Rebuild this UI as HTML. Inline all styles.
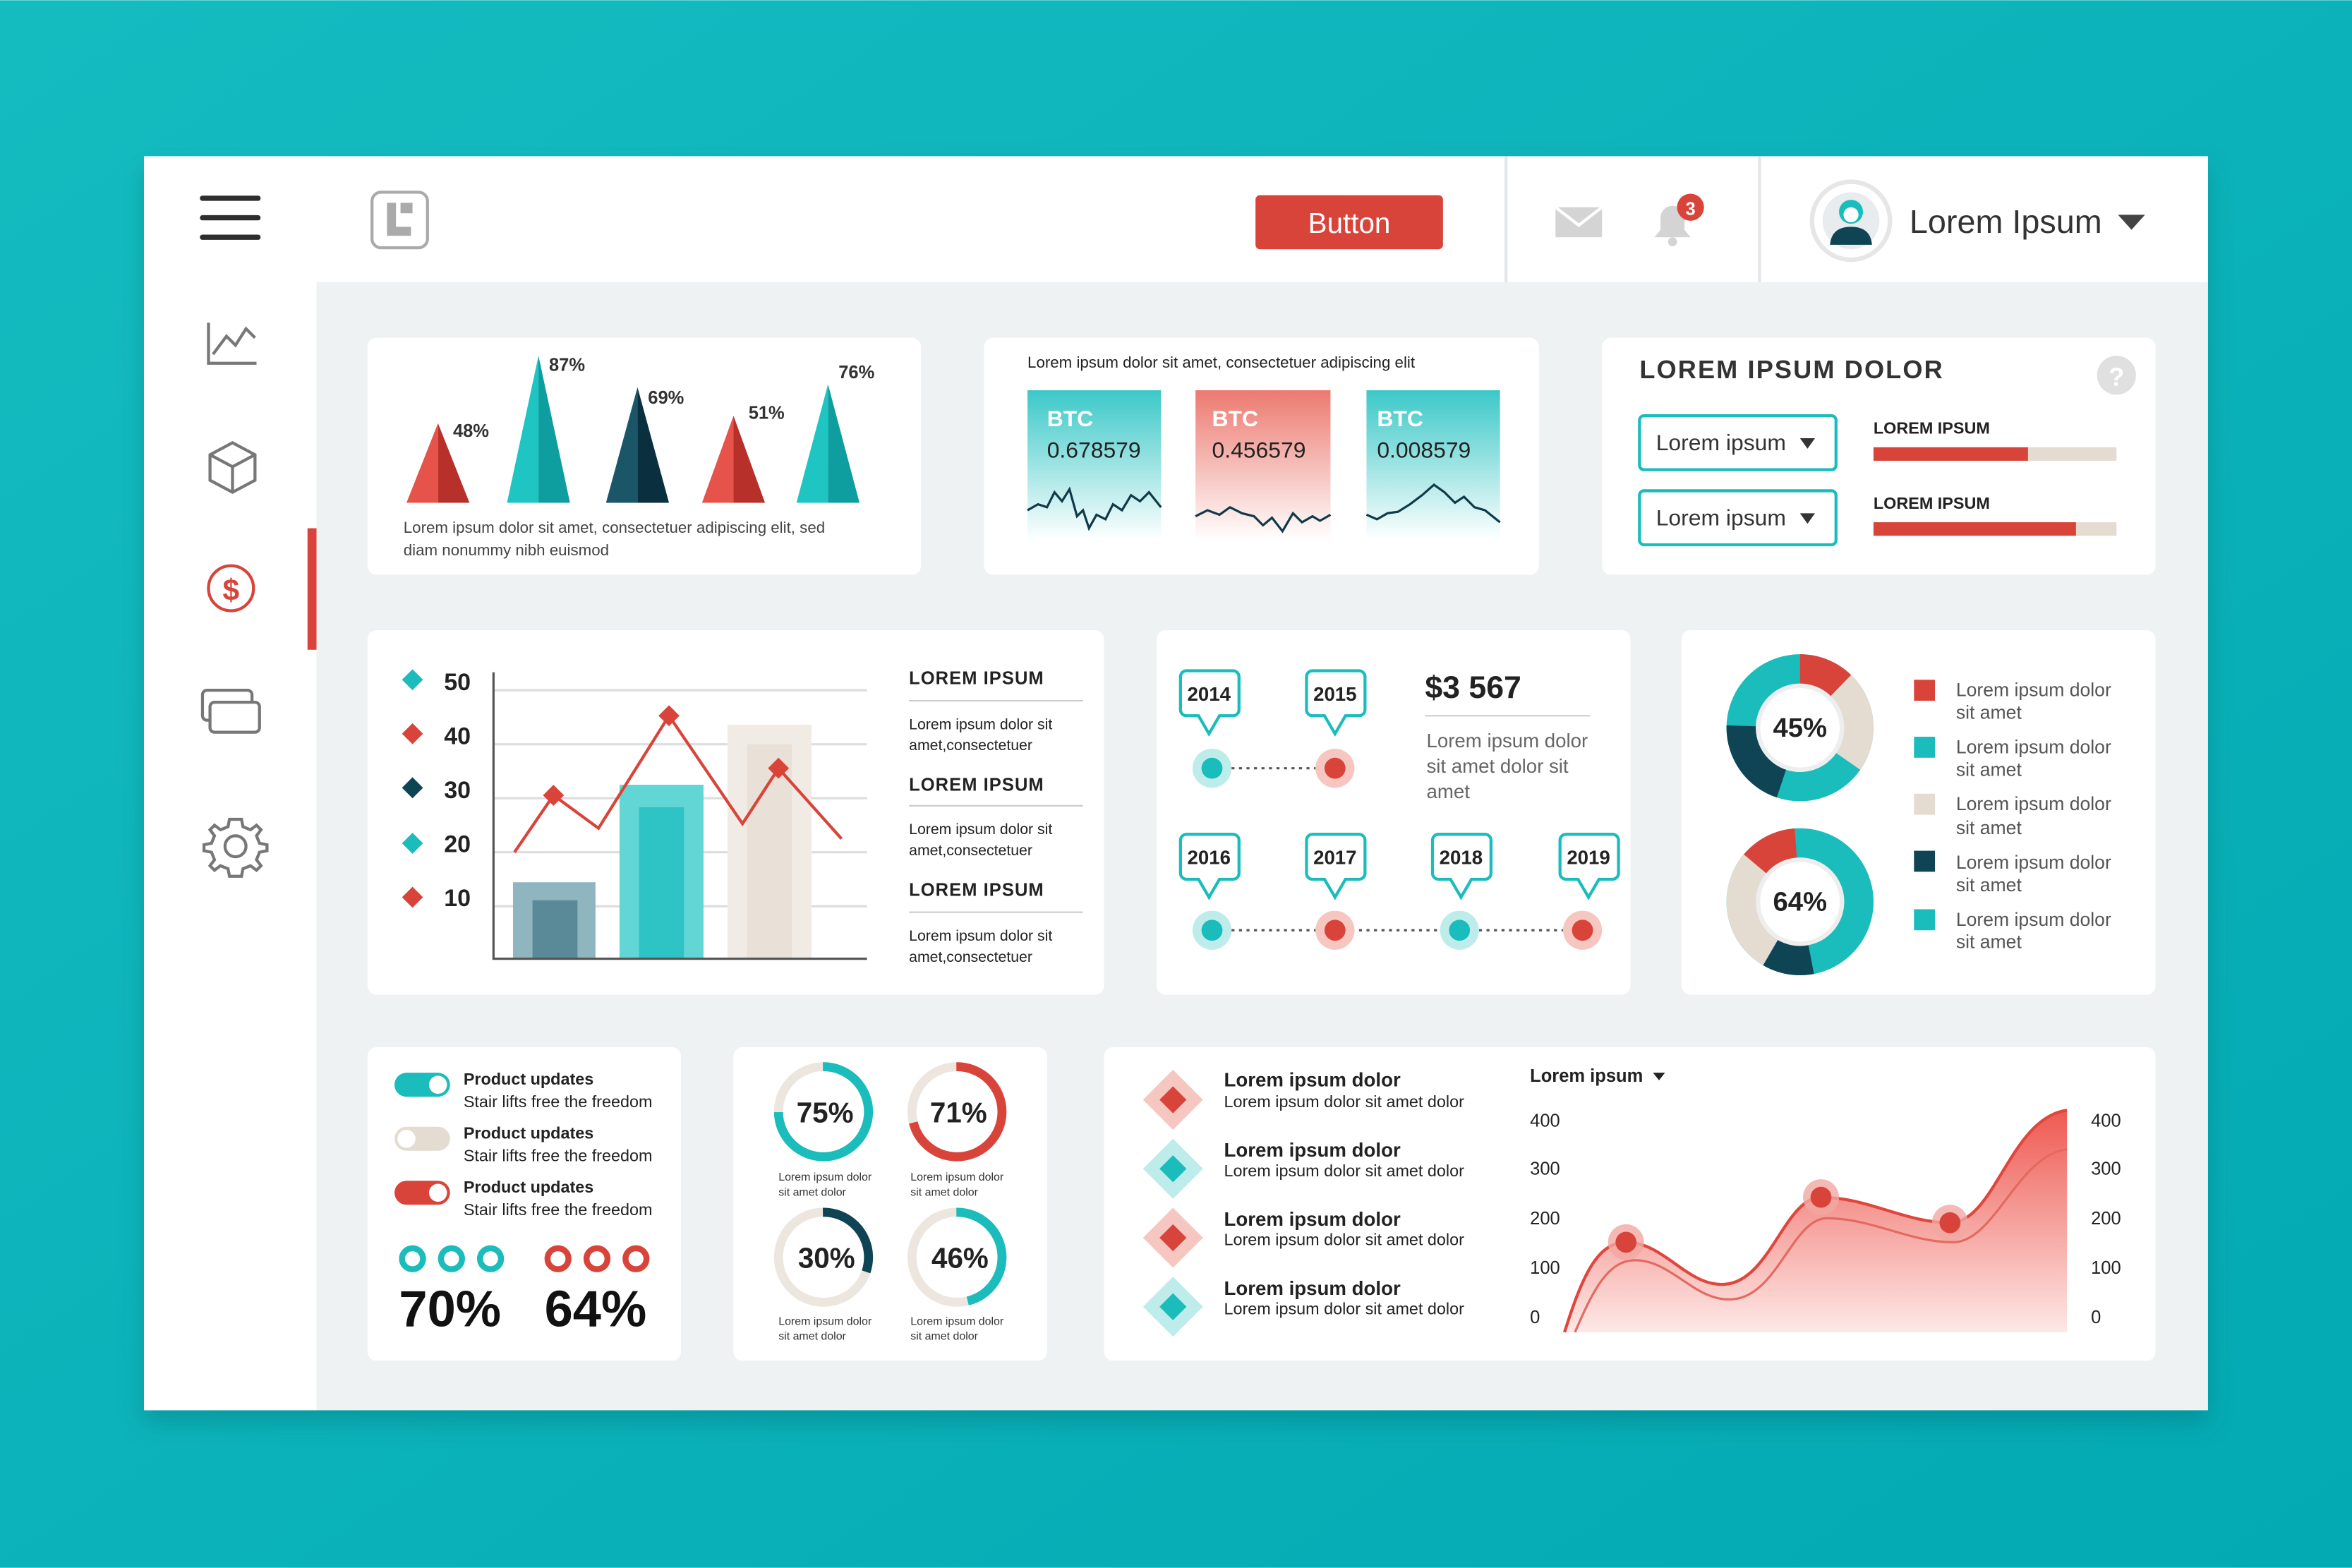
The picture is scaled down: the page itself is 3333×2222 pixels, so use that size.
<!DOCTYPE html>
<html><head><meta charset="utf-8"><style>html,body{margin:0;padding:0;overflow:hidden}svg{display:block}text{font-family:"Liberation Sans",sans-serif}</style></head><body>
<svg width="3333" height="2222" viewBox="0 0 1568 1045" xmlns="http://www.w3.org/2000/svg">
<defs>
<linearGradient id="bg" x1="0" y1="0" x2="1" y2="1"><stop offset="0" stop-color="#14bcc0"/><stop offset="1" stop-color="#03a9b3"/></linearGradient>
<linearGradient id="gt" x1="0" y1="0" x2="0" y2="1"><stop offset="0" stop-color="#3cc8c8"/><stop offset="1" stop-color="#fff"/></linearGradient>
<linearGradient id="gr" x1="0" y1="0" x2="0" y2="1"><stop offset="0" stop-color="#ec7a70"/><stop offset="1" stop-color="#fff"/></linearGradient>
<linearGradient id="ga" x1="0" y1="0" x2="0" y2="1"><stop offset="0" stop-color="#ee5a52"/><stop offset="1" stop-color="#fde8e6"/></linearGradient>
<filter id="sh" x="-5%" y="-5%" width="110%" height="115%"><feDropShadow dx="0" dy="8" stdDeviation="8" flood-color="#005b60" flood-opacity="0.3"/></filter>
</defs>
<rect width="1568" height="1045" fill="url(#bg)"/>
<g filter="url(#sh)"><rect x="96" y="104" width="1376" height="836" fill="#eef2f3"/></g>
<rect x="96" y="104" width="115" height="836" fill="#fff"/>
<rect x="211" y="104" width="1261" height="84" fill="#fff"/>
<line x1="1004" y1="104" x2="1004" y2="188" stroke="#e3e6e8" stroke-width="2"/>
<line x1="1173" y1="104" x2="1173" y2="188" stroke="#e3e6e8" stroke-width="2"/>
<!-- sidebar -->
<g stroke="#2e2e2e" stroke-width="3.5" stroke-linecap="round"><line x1="135" y1="132" x2="172" y2="132"/><line x1="135" y1="145" x2="172" y2="145"/><line x1="135" y1="158" x2="172" y2="158"/></g>
<g fill="none" stroke="#777" stroke-width="2">
<polyline points="139,215 139,242 171,242"/><polyline points="142,236 151,224 157,230 164,219 170,225"/>
<path d="M155,295 L170,303 L170,320 L155,328 L140,320 L140,303 Z M140,303 L155,311 L170,303 M155,311 L155,328"/>
<rect x="135" y="460" width="33" height="20" rx="3"/><rect x="140" y="468" width="33" height="20" rx="3" fill="#fff"/>
<circle cx="157" cy="564" r="7"/>
<path d="M157,546 l4,0 1,5 5,2 4,-3 3,3 -3,4 2,5 5,1 0,4 -5,1 -2,5 3,4 -3,3 -4,-3 -5,2 -1,5 -4,0 -4,0 -1,-5 -5,-2 -4,3 -3,-3 3,-4 -2,-5 -5,-1 0,-4 5,-1 2,-5 -3,-4 3,-3 4,3 5,-2 1,-5 z"/>
</g>
<circle cx="154" cy="392" r="15" fill="none" stroke="#d9443a" stroke-width="2"/>
<text x="154" y="400" font-size="20" fill="#d9443a" text-anchor="middle" font-weight="bold">$</text>
<rect x="205" y="352" width="6" height="81" fill="#d9443a"/>
<!-- header -->
<rect x="248" y="128" width="37" height="37" rx="6" fill="none" stroke="#aaa" stroke-width="2"/>
<path d="M258,135 v22 h16 v-6 h-10 v-16 z M267,135 h8 v7 h-8z" fill="#aaa"/>
<rect x="837" y="130" width="125" height="36" rx="3" fill="#d9443a"/>
<text x="899.5" y="155" font-size="19" fill="#fff" text-anchor="middle">Button</text>
<rect x="1037" y="138" width="31" height="20" fill="#d4d4d4"/><polyline points="1037,138 1052.5,150 1068,138" fill="none" stroke="#fff" stroke-width="2"/>
<path d="M1103,158 h24 l-4,-5 v-8 a8,8 0 0 0 -16,0 v8 z" fill="#d4d4d4"/><circle cx="1115" cy="161" r="3" fill="#d4d4d4"/>
<circle cx="1127" cy="138" r="9" fill="#d9443a"/><text x="1127" y="143" font-size="12" fill="#fff" text-anchor="middle" font-weight="bold">3</text>
<circle cx="1234" cy="147" r="26" fill="#fff" stroke="#e6e6e6" stroke-width="3"/><circle cx="1234" cy="147" r="19" fill="#e8ecee"/>
<path d="M1220,163 q1,-12 14,-12 q13,0 14,12 z" fill="#0f4455"/><circle cx="1234" cy="141" r="8" fill="#1bbcbc"/><circle cx="1234" cy="143" r="5" fill="#fff"/>
<text x="1273" y="155" font-size="22" fill="#333">Lorem Ipsum</text>
<polygon points="1412,143 1430,143 1421,153" fill="#444"/>
<!-- cards -->
<g fill="#fff">
<rect x="245" y="225" width="369" height="158" rx="6"/><rect x="656" y="225" width="370" height="158" rx="6"/><rect x="1068" y="225" width="369" height="158" rx="6"/>
<rect x="245" y="420" width="491" height="243" rx="6"/><rect x="771" y="420" width="316" height="243" rx="6"/><rect x="1121" y="420" width="316" height="243" rx="6"/>
<rect x="245" y="698" width="209" height="209" rx="6"/><rect x="489" y="698" width="209" height="209" rx="6"/><rect x="736" y="698" width="701" height="209" rx="6"/>
</g>
<!-- card1 cones -->
<polygon points="271,335 292,282 292,335" fill="#e5534a"/><polygon points="292,282 313,335 292,335" fill="#b8302a"/>
<polygon points="338,335 359,237 359,335" fill="#1fc5c3"/><polygon points="359,237 380,335 359,335" fill="#0e9e9f"/>
<polygon points="404,335 425,258 425,335" fill="#1a5568"/><polygon points="425,258 446,335 425,335" fill="#0a3040"/>
<polygon points="468,335 489,277 489,335" fill="#e5534a"/><polygon points="489,277 510,335 489,335" fill="#b8302a"/>
<polygon points="531,335 552,256 552,335" fill="#1fc5c3"/><polygon points="552,256 573,335 552,335" fill="#0e9e9f"/>
<g font-size="12" fill="#333" font-weight="bold"><text x="302" y="291">48%</text><text x="366" y="247">87%</text><text x="432" y="269">69%</text><text x="499" y="279">51%</text><text x="559" y="252">76%</text></g>
<text x="269" y="355" font-size="10.5" fill="#444">Lorem ipsum dolor sit amet, consectetuer adipiscing elit, sed</text>
<text x="269" y="370" font-size="10.5" fill="#444">diam nonummy nibh euismod</text>
<!-- card2 -->
<text x="685" y="245" font-size="10.5" fill="#222">Lorem ipsum dolor sit amet, consectetuer adipiscing elit</text>
<rect x="685" y="260" width="89" height="100" fill="url(#gt)"/><rect x="797" y="260" width="90" height="100" fill="url(#gr)"/><rect x="911" y="260" width="89" height="100" fill="url(#gt)"/>
<g font-size="15"><text x="698" y="284" fill="#fff" font-weight="bold">BTC</text><text x="698" y="305" fill="#222">0.678579</text>
<text x="808" y="284" fill="#fff" font-weight="bold">BTC</text><text x="808" y="305" fill="#222">0.456579</text>
<text x="918" y="284" fill="#fff" font-weight="bold">BTC</text><text x="918" y="305" fill="#222">0.008579</text></g>
<g fill="none" stroke="#0f3a48" stroke-width="1.5">
<polyline points="685,340 692,336 698,338 703,328 708,334 713,326 718,344 722,340 726,352 731,343 737,346 742,336 748,340 754,330 760,334 766,328 774,338"/>
<polyline points="797,344 805,340 813,343 820,338 828,342 836,344 842,350 848,345 855,354 862,342 868,348 875,344 880,347 887,343"/>
<polyline points="911,343 918,346 925,342 932,341 940,336 948,330 956,323 963,328 970,335 976,331 983,338 990,340 1000,348"/>
</g>
<!-- card3 -->
<text x="1093" y="252" font-size="17" fill="#333" font-weight="bold" letter-spacing="1">LOREM IPSUM DOLOR</text>
<circle cx="1411" cy="250" r="13" fill="#e0e0e0"/><text x="1411" y="257" font-size="17" fill="#fff" text-anchor="middle" font-weight="bold">?</text>
<rect x="1093" y="277" width="131" height="36" rx="3" fill="none" stroke="#1bbcbc" stroke-width="2"/><rect x="1093" y="327" width="131" height="36" rx="3" fill="none" stroke="#1bbcbc" stroke-width="2"/>
<text x="1104" y="300" font-size="15" fill="#333">Lorem ipsum</text><text x="1104" y="350" font-size="15" fill="#333">Lorem ipsum</text>
<polygon points="1200,292 1210,292 1205,299" fill="#333"/><polygon points="1200,342 1210,342 1205,349" fill="#333"/>
<text x="1249" y="289" font-size="11" fill="#222" font-weight="bold">LOREM IPSUM</text><text x="1249" y="339" font-size="11" fill="#222" font-weight="bold">LOREM IPSUM</text>
<rect x="1249" y="298" width="162" height="9" fill="#e4dbd1"/><rect x="1249" y="298" width="103" height="9" fill="#d9443a"/>
<rect x="1249" y="348" width="162" height="9" fill="#e4dbd1"/><rect x="1249" y="348" width="135" height="9" fill="#d9443a"/>
<!-- card4 -->
<g><polygon points="275,446 282,453 275,460 268,453" fill="#1bbcbc"/><polygon points="275,482 282,489 275,496 268,489" fill="#d9443a"/><polygon points="275,518 282,525 275,532 268,525" fill="#0f4455"/><polygon points="275,555 282,562 275,569 268,562" fill="#1bbcbc"/><polygon points="275,591 282,598 275,605 268,598" fill="#d9443a"/></g>
<g font-size="16" fill="#222" font-weight="bold"><text x="296" y="460">50</text><text x="296" y="496">40</text><text x="296" y="532">30</text><text x="296" y="568">20</text><text x="296" y="604">10</text></g>
<g stroke="#ddd" stroke-width="1.5"><line x1="329" y1="460" x2="578" y2="460"/><line x1="329" y1="496" x2="578" y2="496"/><line x1="329" y1="532" x2="578" y2="532"/><line x1="329" y1="568" x2="578" y2="568"/><line x1="329" y1="604" x2="578" y2="604"/></g>
<rect x="342" y="588" width="55" height="51" fill="#8fb5bf"/><rect x="355" y="600" width="30" height="39" fill="#5a8a98"/>
<rect x="413" y="523" width="56" height="116" fill="#62d6d5"/><rect x="426" y="538" width="30" height="101" fill="#2ec4c6"/>
<rect x="485" y="483" width="56" height="156" fill="#f1ebe5"/><rect x="498" y="496" width="30" height="143" fill="#e9e0d8"/>
<polyline points="329,448 329,639 578,639" fill="none" stroke="#555" stroke-width="1.5"/>
<polyline points="343,568 369,530 399,552 446,477 495,549 519,512 561,559" fill="none" stroke="#d9443a" stroke-width="2"/>
<g fill="#d9443a"><polygon points="369,523 376,530 369,537 362,530"/><polygon points="446,470 453,477 446,484 439,477"/><polygon points="519,505 526,512 519,519 512,512"/></g>
<g font-size="12" fill="#222" font-weight="bold" letter-spacing="0.5"><text x="606" y="456">LOREM IPSUM</text><text x="606" y="527">LOREM IPSUM</text><text x="606" y="597">LOREM IPSUM</text></g>
<g stroke="#ccc"><line x1="606" y1="467" x2="722" y2="467"/><line x1="606" y1="537" x2="722" y2="537"/><line x1="606" y1="608" x2="722" y2="608"/></g>
<g font-size="10" fill="#222"><text x="606" y="486">Lorem ipsum dolor sit</text><text x="606" y="500">amet,consectetuer</text><text x="606" y="556">Lorem ipsum dolor sit</text><text x="606" y="570">amet,consectetuer</text><text x="606" y="627">Lorem ipsum dolor sit</text><text x="606" y="641">amet,consectetuer</text></g>
<!-- card5 -->
<g fill="none" stroke-dasharray="2,3" stroke="#555" stroke-width="1.5"><line x1="816" y1="512" x2="880" y2="512"/><line x1="816" y1="620" x2="1047" y2="620"/></g>
<g font-size="13" font-weight="bold" fill="#222" text-anchor="middle">
<path d="M791,447 h31 a4,4 0 0 1 4,4 v22 a4,4 0 0 1 -4,4 h-9 l-7,12 l-7,-12 h-8 a4,4 0 0 1 -4,-4 v-22 a4,4 0 0 1 4,-4z" fill="#fff" stroke="#1bbcbc" stroke-width="2"/><text x="806" y="467">2014</text>
<path d="M875,447 h31 a4,4 0 0 1 4,4 v22 a4,4 0 0 1 -4,4 h-9 l-7,12 l-7,-12 h-8 a4,4 0 0 1 -4,-4 v-22 a4,4 0 0 1 4,-4z" fill="#fff" stroke="#1bbcbc" stroke-width="2"/><text x="890" y="467">2015</text>
<path d="M791,556 h31 a4,4 0 0 1 4,4 v22 a4,4 0 0 1 -4,4 h-9 l-7,12 l-7,-12 h-8 a4,4 0 0 1 -4,-4 v-22 a4,4 0 0 1 4,-4z" fill="#fff" stroke="#1bbcbc" stroke-width="2"/><text x="806" y="576">2016</text>
<path d="M875,556 h31 a4,4 0 0 1 4,4 v22 a4,4 0 0 1 -4,4 h-9 l-7,12 l-7,-12 h-8 a4,4 0 0 1 -4,-4 v-22 a4,4 0 0 1 4,-4z" fill="#fff" stroke="#1bbcbc" stroke-width="2"/><text x="890" y="576">2017</text>
<path d="M959,556 h31 a4,4 0 0 1 4,4 v22 a4,4 0 0 1 -4,4 h-9 l-7,12 l-7,-12 h-8 a4,4 0 0 1 -4,-4 v-22 a4,4 0 0 1 4,-4z" fill="#fff" stroke="#1bbcbc" stroke-width="2"/><text x="974" y="576">2018</text>
<path d="M1044,556 h31 a4,4 0 0 1 4,4 v22 a4,4 0 0 1 -4,4 h-9 l-7,12 l-7,-12 h-8 a4,4 0 0 1 -4,-4 v-22 a4,4 0 0 1 4,-4z" fill="#fff" stroke="#1bbcbc" stroke-width="2"/><text x="1059" y="576">2019</text>
</g>
<g><circle cx="808" cy="512" r="13" fill="#bdeceb"/><circle cx="808" cy="512" r="7" fill="#1bbcbc"/>
<circle cx="890" cy="512" r="13" fill="#f6c6c1"/><circle cx="890" cy="512" r="7" fill="#d9443a"/>
<circle cx="808" cy="620" r="13" fill="#bdeceb"/><circle cx="808" cy="620" r="7" fill="#1bbcbc"/>
<circle cx="890" cy="620" r="13" fill="#f6c6c1"/><circle cx="890" cy="620" r="7" fill="#d9443a"/>
<circle cx="973" cy="620" r="13" fill="#bdeceb"/><circle cx="973" cy="620" r="7" fill="#1bbcbc"/>
<circle cx="1055" cy="620" r="13" fill="#f6c6c1"/><circle cx="1055" cy="620" r="7" fill="#d9443a"/></g>
<text x="950" y="465" font-size="21" font-weight="bold" fill="#222">$3 567</text>
<line x1="950" y1="477" x2="1060" y2="477" stroke="#ccc"/>
<g font-size="13" fill="#666"><text x="951" y="498">Lorem ipsum dolor</text><text x="951" y="515">sit amet dolor sit</text><text x="951" y="532">amet</text></g>
<!-- card6 donuts -->
<g fill="none" stroke-width="20">
<circle cx="1200" cy="485" r="39" stroke="#1bbcbc"/>
<circle cx="1200" cy="485" r="39" stroke="#d9443a" stroke-dasharray="30 215" transform="rotate(-90 1200 485)"/>
<circle cx="1200" cy="485" r="39" stroke="#e4dbd1" stroke-dasharray="0 30 55 160" transform="rotate(-90 1200 485)"/>
<circle cx="1200" cy="485" r="39" stroke="#0f4455" stroke-dasharray="0 135 50 60" transform="rotate(-90 1200 485)"/>
<circle cx="1200" cy="601" r="39" stroke="#1bbcbc"/>
<circle cx="1200" cy="601" r="39" stroke="#d9443a" stroke-dasharray="38 207" transform="rotate(-150 1200 601)"/>
<circle cx="1200" cy="601" r="39" stroke="#0f4455" stroke-dasharray="0 115 28 102" transform="rotate(-90 1200 601)"/>
<circle cx="1200" cy="601" r="39" stroke="#e4dbd1" stroke-dasharray="0 143 68 34" transform="rotate(-90 1200 601)"/>
</g>
<circle cx="1200" cy="485" r="28" fill="#fff" stroke="#eee" stroke-width="3"/><circle cx="1200" cy="601" r="28" fill="#fff" stroke="#eee" stroke-width="3"/>
<text x="1200" y="491" font-size="18" font-weight="bold" fill="#222" text-anchor="middle">45%</text>
<text x="1200" y="607" font-size="18" font-weight="bold" fill="#222" text-anchor="middle">64%</text>
<rect x="1276" y="453" width="14" height="14" fill="#d9443a"/><rect x="1276" y="491" width="14" height="14" fill="#1bbcbc"/><rect x="1276" y="529" width="14" height="14" fill="#e4dbd1"/><rect x="1276" y="567" width="14" height="14" fill="#0f4455"/><rect x="1276" y="606" width="14" height="14" fill="#1bbcbc"/>
<g font-size="12.5" fill="#555"><text x="1304" y="464">Lorem ipsum dolor</text><text x="1304" y="479">sit amet</text><text x="1304" y="502">Lorem ipsum dolor</text><text x="1304" y="517">sit amet</text><text x="1304" y="540">Lorem ipsum dolor</text><text x="1304" y="556">sit amet</text><text x="1304" y="579">Lorem ipsum dolor</text><text x="1304" y="594">sit amet</text><text x="1304" y="617">Lorem ipsum dolor</text><text x="1304" y="632">sit amet</text></g>
<!-- card7 -->
<rect x="263" y="715" width="37" height="16" rx="8" fill="#1bbcbc"/><circle cx="292" cy="723" r="6" fill="#fff"/>
<rect x="263" y="751" width="37" height="16" rx="8" fill="#e4dbd1"/><circle cx="271" cy="759" r="6" fill="#fff"/>
<rect x="263" y="787" width="37" height="16" rx="8" fill="#d9443a"/><circle cx="292" cy="795" r="6" fill="#fff"/>
<g font-size="11" fill="#222"><text x="309" y="723" font-weight="bold">Product updates</text><text x="309" y="738">Stair lifts free the freedom</text>
<text x="309" y="759" font-weight="bold">Product updates</text><text x="309" y="774">Stair lifts free the freedom</text>
<text x="309" y="795" font-weight="bold">Product updates</text><text x="309" y="810">Stair lifts free the freedom</text></g>
<g fill="none" stroke-width="4"><circle cx="275" cy="839" r="7" stroke="#1bbcbc"/><circle cx="301" cy="839" r="7" stroke="#1bbcbc"/><circle cx="327" cy="839" r="7" stroke="#1bbcbc"/>
<circle cx="372" cy="839" r="7" stroke="#d9443a"/><circle cx="398" cy="839" r="7" stroke="#d9443a"/><circle cx="424" cy="839" r="7" stroke="#d9443a"/></g>
<text x="266" y="884" font-size="34" font-weight="bold" fill="#111">70%</text><text x="363" y="884" font-size="34" font-weight="bold" fill="#111">64%</text>
<!-- card8 -->
<g fill="none" stroke-width="6">
<circle cx="549" cy="741" r="30" stroke="#ece6df"/><circle cx="549" cy="741" r="30" stroke="#1bbcbc" stroke-dasharray="141 47" transform="rotate(-90 549 741)"/>
<circle cx="638" cy="741" r="30" stroke="#ece6df"/><circle cx="638" cy="741" r="30" stroke="#d9443a" stroke-dasharray="134 54" transform="rotate(-90 638 741)"/>
<circle cx="549" cy="838" r="30" stroke="#ece6df"/><circle cx="549" cy="838" r="30" stroke="#0f4455" stroke-dasharray="57 131" transform="rotate(-90 549 838)"/>
<circle cx="638" cy="838" r="30" stroke="#ece6df"/><circle cx="638" cy="838" r="30" stroke="#1bbcbc" stroke-dasharray="87 101" transform="rotate(-90 638 838)"/>
</g>
<g font-size="19" font-weight="bold" fill="#222" text-anchor="middle"><text x="550" y="748">75%</text><text x="639" y="748">71%</text><text x="551" y="845">30%</text><text x="640" y="845">46%</text></g>
<g font-size="7.5" fill="#333"><text x="519" y="787">Lorem ipsum dolor</text><text x="519" y="797">sit amet dolor</text><text x="607" y="787">Lorem ipsum dolor</text><text x="607" y="797">sit amet dolor</text>
<text x="519" y="883">Lorem ipsum dolor</text><text x="519" y="893">sit amet dolor</text><text x="607" y="883">Lorem ipsum dolor</text><text x="607" y="893">sit amet dolor</text></g>
<!-- card9 -->
<g>
<polygon points="782,713 802,733 782,753 762,733" fill="#f6c6c1"/><polygon points="782,724 791,733 782,742 773,733" fill="#d9443a"/>
<polygon points="782,759 802,779 782,799 762,779" fill="#bdeceb"/><polygon points="782,770 791,779 782,788 773,779" fill="#1bbcbc"/>
<polygon points="782,805 802,825 782,845 762,825" fill="#f6c6c1"/><polygon points="782,816 791,825 782,834 773,825" fill="#d9443a"/>
<polygon points="782,851 802,871 782,891 762,871" fill="#bdeceb"/><polygon points="782,862 791,871 782,880 773,871" fill="#1bbcbc"/>
</g>
<g fill="#222"><text x="816" y="724" font-size="13" font-weight="bold">Lorem ipsum dolor</text><text x="816" y="738" font-size="11">Lorem ipsum dolor sit amet dolor</text>
<text x="816" y="771" font-size="13" font-weight="bold">Lorem ipsum dolor</text><text x="816" y="784" font-size="11">Lorem ipsum dolor sit amet dolor</text>
<text x="816" y="817" font-size="13" font-weight="bold">Lorem ipsum dolor</text><text x="816" y="830" font-size="11">Lorem ipsum dolor sit amet dolor</text>
<text x="816" y="863" font-size="13" font-weight="bold">Lorem ipsum dolor</text><text x="816" y="876" font-size="11">Lorem ipsum dolor sit amet dolor</text></g>
<text x="1020" y="721" font-size="12" font-weight="bold" fill="#222">Lorem ipsum</text><polygon points="1102,715 1110,715 1106,720" fill="#222"/>
<g font-size="12" fill="#222"><text x="1020" y="751">400</text><text x="1020" y="783">300</text><text x="1020" y="816">200</text><text x="1020" y="849">100</text><text x="1020" y="882">0</text>
<text x="1394" y="751">400</text><text x="1394" y="783">300</text><text x="1394" y="816">200</text><text x="1394" y="849">100</text><text x="1394" y="882">0</text></g>
<path d="M1043,888 C1055,850 1065,828 1084,828 C1110,828 1125,858 1150,856 C1180,854 1190,798 1214,798 C1245,798 1270,815 1300,815 C1330,815 1340,745 1378,740 L1378,888 Z" fill="url(#ga)"/>
<path d="M1050,888 C1062,860 1072,840 1090,840 C1115,840 1130,868 1155,866 C1185,864 1195,812 1218,812 C1248,812 1273,828 1302,828 C1330,828 1345,770 1378,766" fill="none" stroke="#e36a60" stroke-width="1.5"/>
<path d="M1043,888 C1055,850 1065,828 1084,828 C1110,828 1125,858 1150,856 C1180,854 1190,798 1214,798 C1245,798 1270,815 1300,815 C1330,815 1340,745 1378,740" fill="none" stroke="#e0463c" stroke-width="2"/>
<g><circle cx="1084" cy="828" r="12" fill="#f1a8a1" opacity="0.8"/><circle cx="1084" cy="828" r="7" fill="#d9443a"/>
<circle cx="1214" cy="798" r="12" fill="#f1a8a1" opacity="0.8"/><circle cx="1214" cy="798" r="7" fill="#d9443a"/>
<circle cx="1300" cy="815" r="12" fill="#f1a8a1" opacity="0.8"/><circle cx="1300" cy="815" r="7" fill="#d9443a"/></g>
</svg>
</body></html>
